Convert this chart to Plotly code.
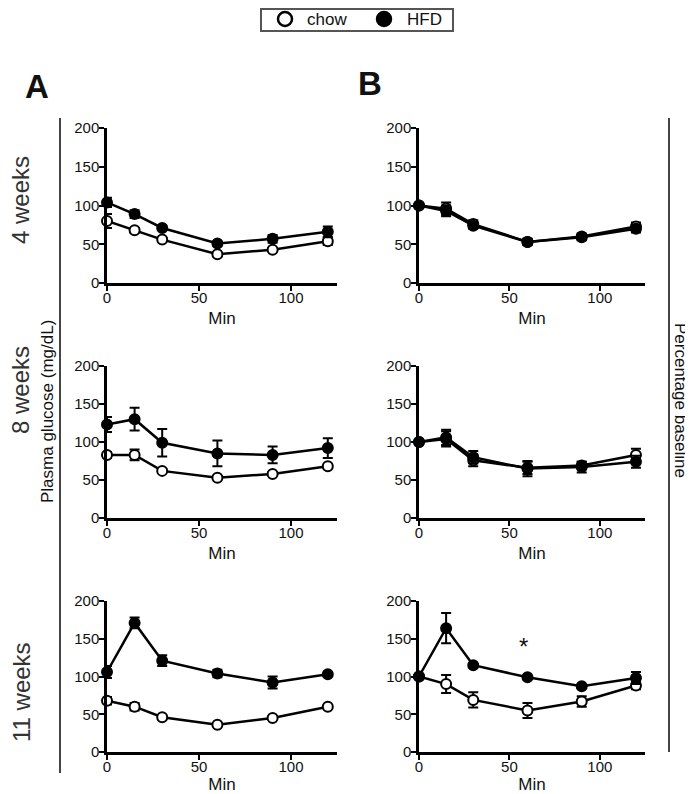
import plotly.graph_objects as go

# Tolérance au glucose : chow vs HFD, valeurs absolues (A) et % de la base (B)
OFF = 8  # marge du <body> dans la page html
W, H = 693 - OFF, 794 - OFF

minutes = [0, 15, 30, 60, 90, 120]
rows = ["4 weeks", "8 weeks", "11 weeks"]
groups = ["chow", "HFD"]

# colonne A : glucose plasmatique (mg/dL)
a4_chow = [80, 68, 56, 37, 43, 54]
a4_chow_err = [9, 3, 2, 2, 2, 5]
a4_hfd = [104, 89, 71, 51, 57, 66]
a4_hfd_err = [6, 5, 3, 3, 5, 7]

a8_chow = [83, 83, 62, 53, 58, 68]
a8_chow_err = [4, 7, 2, 2, 2, 2]
a8_hfd = [123, 130, 99, 85, 83, 92]
a8_hfd_err = [10, 15, 18, 17, 11, 13]

a11_chow = [68, 60, 46, 36, 45, 60]
a11_chow_err = [5, 5, 2, 2, 2, 2]
a11_hfd = [106, 171, 121, 104, 92, 103]
a11_hfd_err = [8, 7, 7, 5, 8, 2]

# colonne B : pourcentage de la valeur de base
b4_chow = [100, 96, 76, 53, 60, 73]
b4_chow_err = [0, 8, 5, 4, 4, 5]
b4_hfd = [100, 93, 74, 53, 59, 70]
b4_hfd_err = [0, 7, 4, 4, 4, 5]

b8_chow = [100, 104, 76, 66, 69, 83]
b8_chow_err = [0, 10, 8, 8, 5, 8]
b8_hfd = [100, 106, 80, 65, 67, 74]
b8_hfd_err = [0, 10, 8, 10, 7, 8]

b11_chow = [100, 90, 69, 55, 67, 88]
b11_chow_err = [0, 12, 10, 10, 7, 5]
b11_hfd = [100, 164, 115, 99, 87, 98]
b11_hfd_err = [0, 20, 2, 2, 2, 8]

panels = [
    (a4_chow, a4_chow_err, a4_hfd, a4_hfd_err),
    (b4_chow, b4_chow_err, b4_hfd, b4_hfd_err),
    (a8_chow, a8_chow_err, a8_hfd, a8_hfd_err),
    (b8_chow, b8_chow_err, b8_hfd, b8_hfd_err),
    (a11_chow, a11_chow_err, a11_hfd, a11_hfd_err),
    (b11_chow, b11_chow_err, b11_hfd, b11_hfd_err),
]

def px(x):
    return (x - OFF) / W

def py(y):
    return 1 - (y - OFF) / H

col_px = [(107, 337), (419, 645)]
row_px = [(128, 283), (366, 518), (601, 752)]

FONT = "Liberation Sans, Arial, sans-serif"
fig = go.Figure()

for i, (chow, chow_err, hfd, hfd_err) in enumerate(panels):
    r, c = divmod(i, 2)
    n = i + 1
    xa = "x" if n == 1 else "x%d" % n
    ya = "y" if n == 1 else "y%d" % n
    for vals, err, fill in [(chow, chow_err, "white"), (hfd, hfd_err, "black")]:
        fig.add_trace(go.Scatter(
            x=minutes, y=vals, xaxis=xa, yaxis=ya, mode="lines+markers",
            line=dict(color="black", width=2.5),
            marker=dict(size=10, color=fill, line=dict(color="black", width=2)),
            error_y=dict(type="data", array=err, color="black", thickness=2, width=5),
            showlegend=False, cliponaxis=False))
    x0, x1 = col_px[c]
    y0, y1 = row_px[r]
    axis_style = dict(showline=True, linecolor="black", linewidth=2.5, ticks="outside",
                      tickwidth=2, ticklen=5, tickcolor="black", showgrid=False, zeroline=False,
                      automargin=False, tickfont=dict(family=FONT, size=15, color="#111"))
    fig.layout[xa.replace("x", "xaxis")] = dict(
        domain=[px(x0), px(x1)], range=[0, 125], tickvals=[0, 50, 100], anchor=ya,
        ticklabelstandoff=-6,
        title=dict(text="Min", font=dict(family=FONT, size=17, color="#111"), standoff=8),
        **axis_style)
    fig.layout[ya.replace("y", "yaxis")] = dict(
        domain=[py(y1), py(y0)], range=[0, 200], tickvals=[0, 50, 100, 150, 200], anchor=xa,
        ticklabelstandoff=-3, **axis_style)

annots = [
    dict(text="<b>A</b>", x=px(37), y=py(86), font=dict(size=33)),
    dict(text="<b>B</b>", x=px(370), y=py(84), font=dict(size=33)),
    dict(text=rows[0], x=px(21), y=py(200), textangle=-90, font=dict(size=24, color="#333")),
    dict(text=rows[1], x=px(21), y=py(390), textangle=-90, font=dict(size=24, color="#333")),
    dict(text=rows[2], x=px(21), y=py(692), textangle=-90, font=dict(size=24, color="#333")),
    dict(text="Plasma glucose (mg/dL)", x=px(47), y=py(412), textangle=-90, font=dict(size=17)),
    dict(text="Percentage baseline", x=px(681), y=py(400), textangle=90, font=dict(size=17)),
    # légende
    dict(text=groups[0], x=px(305), y=py(19), xanchor="left", font=dict(size=17)),
    dict(text=groups[1], x=px(405), y=py(19), xanchor="left", font=dict(size=17)),
]
for a in annots:
    a["xref"] = "paper"
    a["yref"] = "paper"
    a.setdefault("xanchor", "center")
    a["yanchor"] = "middle"
    a["showarrow"] = False
    a["font"]["family"] = FONT
    a["font"].setdefault("color", "#111")
    fig.add_annotation(**a)

fig.add_annotation(text="*", x=58, y=140, xref="x6", yref="y6", showarrow=False,
                   font=dict(family=FONT, size=24, color="#111"))

# lignes verticales de regroupement
fig.add_shape(type="line", xref="paper", yref="paper", x0=px(60), x1=px(60), y0=py(118), y1=py(773),
              line=dict(color="#444", width=2))
fig.add_shape(type="line", xref="paper", yref="paper", x0=px(669), x1=px(669), y0=py(118), y1=py(752),
              line=dict(color="#444", width=2))

# cadre de légende et symboles
fig.add_shape(type="rect", xref="paper", yref="paper", x0=px(261), x1=px(453), y0=py(31), y1=py(9),
              line=dict(color="#555", width=2), fillcolor="white")
for cx, fill in [(285, "white"), (384, "black")]:
    fig.add_shape(type="circle", xref="paper", yref="paper", x0=px(cx - 7), x1=px(cx + 7),
                  y0=py(26), y1=py(12), line=dict(color="black", width=2.5), fillcolor=fill)

fig.update_layout(
    template="none", showlegend=False,
    width=W, height=H, margin=dict(l=0, r=0, t=0, b=0, autoexpand=False),
    paper_bgcolor="white", plot_bgcolor="white",
)

fig.write_html("out.html")
